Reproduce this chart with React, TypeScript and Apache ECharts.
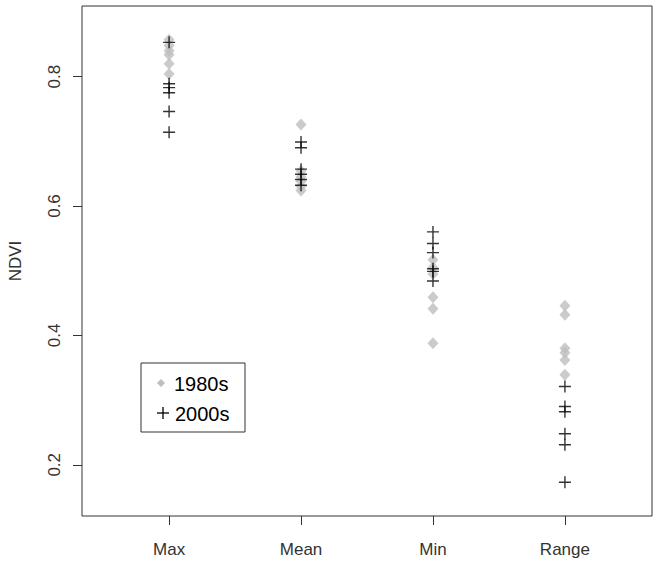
import React, { useEffect, useRef } from "react";
import * as echarts from "echarts";

const categories = ["Max", "Mean", "Min", "Range"];
const categoryPositions = [1, 2, 3, 4];
const yTicks = [0.2, 0.4, 0.6, 0.8];

// 1980s (grey diamonds), one array per category
const max1980s = [0.857, 0.848, 0.84, 0.834, 0.82, 0.804];
const mean1980s = [0.726, 0.654, 0.645, 0.638, 0.63, 0.624];
const min1980s = [0.517, 0.505, 0.495, 0.459, 0.441, 0.388];
const range1980s = [0.446, 0.432, 0.38, 0.373, 0.362, 0.339];

// 2000s (black pluses)
const max2000s = [0.853, 0.789, 0.783, 0.775, 0.746, 0.714];
const mean2000s = [0.699, 0.69, 0.657, 0.649, 0.641, 0.632];
const min2000s = [0.56, 0.542, 0.528, 0.503, 0.499, 0.484];
const range2000s = [0.321, 0.29, 0.282, 0.248, 0.231, 0.173];

const values1980s = [max1980s, mean1980s, min1980s, range1980s];
const values2000s = [max2000s, mean2000s, min2000s, range2000s];

const toPoints = (groups: number[][]) =>
  groups.flatMap((vals, i) => vals.map((v) => [categoryPositions[i], v]));

const FONT = "'Liberation Sans', Arial, sans-serif";
const GREY = "#bebebe";
const PLUS = "path://M5,0V10M0,5H10";

export default function App() {
  const ref = useRef<HTMLDivElement>(null);
  useEffect(() => {
    if (!ref.current) return;
    const chart = echarts.init(ref.current, null, { renderer: "svg" });
    chart.setOption({
      animation: false,
      backgroundColor: "#ffffff",
      grid: {
        left: 82,
        top: 6,
        right: 10,
        bottom: 49,
        show: true,
        borderColor: "#333",
        borderWidth: 1,
        backgroundColor: "transparent",
        outerBoundsMode: "none",
      },
      xAxis: {
        type: "value",
        min: 0.34,
        max: 4.66,
        axisLine: { show: false },
        splitLine: { show: false },
        axisTick: { show: true, length: 9, customValues: categoryPositions, lineStyle: { color: "#333" } },
        axisLabel: {
          customValues: categoryPositions,
          formatter: (v: number) => categories[Math.round(v) - 1] ?? "",
          fontFamily: FONT,
          fontSize: 17,
          color: "#333",
          margin: 25,
        },
      },
      yAxis: {
        type: "value",
        min: 0.1208,
        max: 0.9092,
        name: "NDVI",
        nameLocation: "middle",
        nameRotate: 90,
        nameGap: 58,
        nameTextStyle: { fontFamily: FONT, fontSize: 17, color: "#333" },
        axisLine: { show: false },
        splitLine: { show: false },
        axisTick: { show: true, length: 9, customValues: yTicks, lineStyle: { color: "#333" } },
        axisLabel: {
          customValues: yTicks,
          rotate: 90,
          formatter: (v: number) => String(Math.round(v * 10) / 10),
          fontFamily: FONT,
          fontSize: 17,
          color: "#333",
          margin: 19,
        },
      },
      series: [
        {
          name: "1980s",
          type: "scatter",
          symbol: "diamond",
          symbolSize: [11, 12],
          itemStyle: { color: GREY },
          data: toPoints(values1980s),
        },
        {
          name: "2000s",
          type: "scatter",
          symbol: PLUS,
          symbolSize: 12,
          itemStyle: { color: "none", borderColor: "#000", borderWidth: 1.4 },
          data: toPoints(values2000s),
        },
      ],
      graphic: [
        {
          type: "rect",
          shape: { x: 141, y: 363, width: 104, height: 69 },
          style: { fill: "#fff", stroke: "#333", lineWidth: 1 },
        },
        {
          type: "polygon",
          shape: { points: [[161, 379], [165, 383], [161, 387], [157, 383]] },
          style: { fill: GREY },
        },
        {
          type: "line",
          shape: { x1: 157, y1: 413, x2: 169, y2: 413 },
          style: { stroke: "#000", lineWidth: 1.3 },
        },
        {
          type: "line",
          shape: { x1: 163, y1: 407, x2: 163, y2: 419 },
          style: { stroke: "#000", lineWidth: 1.3 },
        },
        {
          type: "text",
          x: 174,
          y: 384,
          style: { text: "1980s", fontFamily: FONT, fontSize: 20, fill: "#000", verticalAlign: "middle" },
        },
        {
          type: "text",
          x: 175,
          y: 414,
          style: { text: "2000s", fontFamily: FONT, fontSize: 20, fill: "#000", verticalAlign: "middle" },
        },
      ],
    });
    return () => chart.dispose();
  }, []);
  return (
    <div
      ref={ref}
      style={{ position: "fixed", left: 0, top: 0, width: 662, height: 565, background: "#fff" }}
    />
  );
}
